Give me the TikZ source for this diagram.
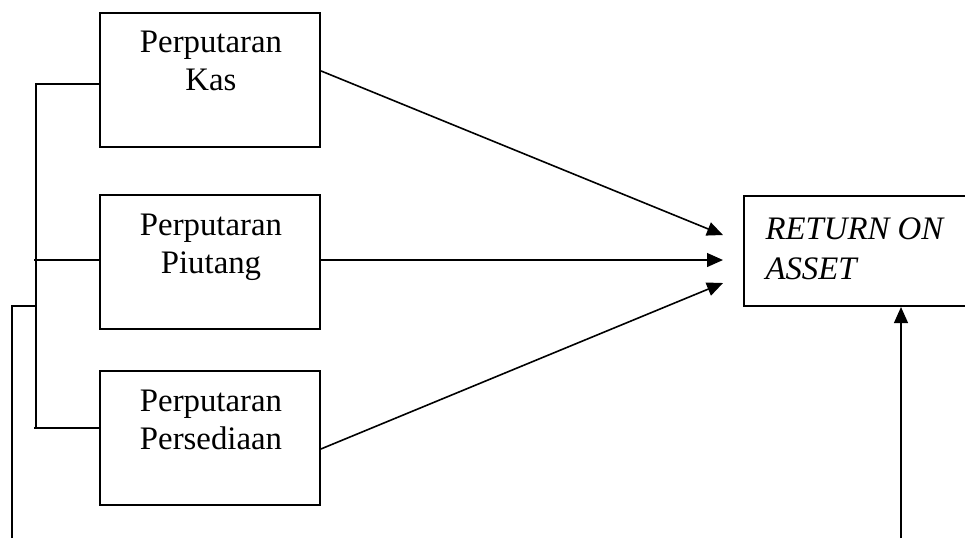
\documentclass[tikz,border=0pt]{standalone}
\usepackage{fontspec}
\setmainfont{Liberation Serif}
\usetikzlibrary{arrows.meta,positioning}

\begin{document}
\begin{tikzpicture}[x=0.375pt,y=-0.375pt,
  kotak/.style={draw,line width=0.75pt,minimum width=82.5pt,minimum height=50.25pt,inner sep=0pt},
  isi/.style={align=center,font=\fontsize{12.3}{14.25}\selectfont,anchor=north,inner sep=0pt},
  garis/.style={line width=0.75pt},
  panah/.style={-{Triangle[length=6pt,width=5.2pt]},line width=0.6pt}]
\useasboundingbox (0,0) rectangle (965,538);
\clip (0,0) rectangle (965,538);

% kotak variabel
\node[kotak] (kas) at (210,80) {};
\node[kotak] (piutang) at (210,262) {};
\node[kotak] (sedia) at (210,438) {};
\node[kotak,minimum width=90.4pt,minimum height=41.25pt] (roa) at (864.5,251) {};

\node[isi] (kasT) at (211,30) {Perputaran\\Kas};
\node[isi] (piutangT) at (211,213) {Perputaran\\Piutang};
\node[isi] (sediaT) at (211,389) {Perputaran\\Persediaan};
\node[isi,anchor=north west,align=left,font=\fontsize{12.3}{15}\selectfont\itshape] (roaT) at (765,217) {RETURN ON\\ASSET};

% ujung panah
\coordinate (u1) at (723,235);
\coordinate (u2) at (723,260);
\coordinate (u3) at (723,283);
\coordinate (bawah) at (901,538);
\coordinate (kiri) at (12,538);

\draw[panah] ([yshift=3.4pt]kas.east) -- (u1);
\draw[panah] ([yshift=0.75pt]piutang.west -| piutang.east) -- (u2);
\draw[panah] ([yshift=-4.1pt]sedia.east) -- (u3);
\draw[panah] (bawah) -- (bawah |- roa.south);

% garis kiri
\draw[garis] ([yshift=-1.5pt]kas.west) -| (36,428);
\draw[garis] ([yshift=0.75pt]piutang.west) -- (34,260);
\draw[garis] ([yshift=3.75pt]sedia.west) -- (34,428);
\draw[garis] (kiri) |- (36,306);
\end{tikzpicture}
\end{document}
